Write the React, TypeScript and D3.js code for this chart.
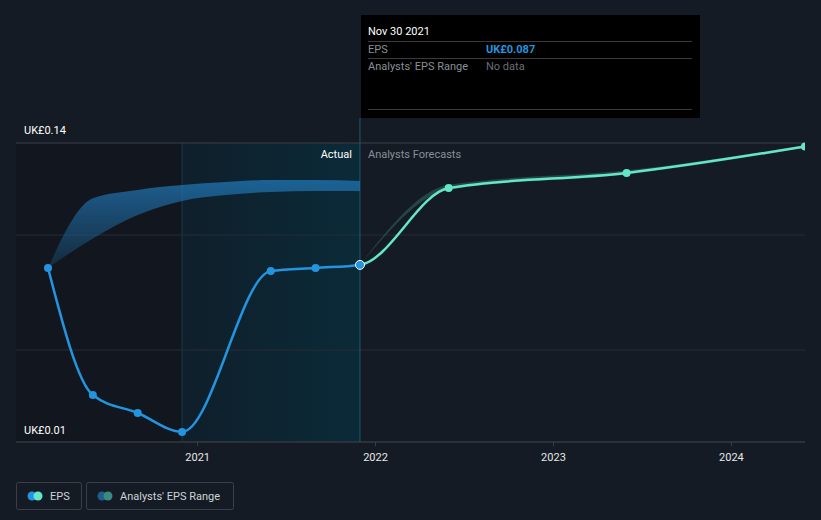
import React from "react";
import * as d3 from "d3";

const W = 821;
const H = 520;

const actualDates = ["2020-02-29", "2020-05-31", "2020-08-31", "2020-11-30", "2021-05-31", "2021-08-31", "2021-11-30"];
const actualEps = [0.0857, 0.0304, 0.0226, 0.0144, 0.0843, 0.0857, 0.087];

const forecastDates = ["2021-11-30", "2022-05-31", "2023-05-31", "2024-05-31"];
const forecastEps = [0.087, 0.1204, 0.127, 0.1385];
const forecastLow = [0.087, 0.1197, 0.1263, 0.1379];
const forecastHigh = [0.087, 0.1218, 0.1281, 0.139];

const pastRangeDates = ["2020-02-29", "2020-05-31", "2020-08-31", "2020-11-30", "2021-02-28", "2021-05-31", "2021-08-31", "2021-11-30"];
const pastRangeHigh = [0.0857, 0.116, 0.1196, 0.1217, 0.123, 0.1239, 0.1239, 0.1235];
const pastRangeLow = [0.0857, 0.0985, 0.1087, 0.1148, 0.1174, 0.1187, 0.1191, 0.1191];

const yTicks = [0.01, 0.05, 0.1, 0.14];
const xTicks = ["2021-01-01", "2022-01-01", "2023-01-01", "2024-01-01"];
const xTickLabels = ["2021", "2022", "2023", "2024"];

const parse = (s: string) => new Date(s + "T00:00:00");

export default function App() {
  const x = d3.scaleTime().domain([parse("2020-02-29"), parse("2024-05-31")]).range([48, 805]);
  const y = d3.scaleLinear().domain([0.01, 0.14]).range([442, 143]);

  const actual = actualDates.map((d, i) => ({ d: parse(d), v: actualEps[i] }));
  const forecast = forecastDates.map((d, i) => ({ d: parse(d), v: forecastEps[i], lo: forecastLow[i], hi: forecastHigh[i] }));
  const past = pastRangeDates.map((d, i) => ({ d: parse(d), lo: pastRangeLow[i], hi: pastRangeHigh[i] }));
  const combined = [...actual, ...forecast.slice(1)];

  const line = d3.line<any>().x((p) => x(p.d)).y((p) => y(p.v)).curve(d3.curveMonotoneX);
  const area = d3.area<any>().x((p) => x(p.d)).y0((p) => y(p.lo)).y1((p) => y(p.hi)).curve(d3.curveMonotoneX);

  const xNow = x(parse("2021-11-30"));
  const xStart = x(parse("2020-11-30"));
  const left = 16;
  const right = 805;
  const top = y(0.14);
  const bottom = y(0.01);
  const font = "Roboto, 'Open Sans', sans-serif";

  return (
    <svg width={W} height={H} style={{ position: "absolute", left: 0, top: 0, display: "block" }} fontFamily={font}>
      <defs>
        <linearGradient id="actualGrad" x1="0" x2="1" y1="0" y2="0">
          <stop offset="0%" stopColor="#0f1f2b" />
          <stop offset="100%" stopColor="#0b2a38" />
        </linearGradient>
        <linearGradient id="bandGrad" x1="0" x2="0" y1="0" y2="1">
          <stop offset="0%" stopColor="#2176b5" stopOpacity={0.75} />
          <stop offset="100%" stopColor="#2176b5" stopOpacity={0.2} />
        </linearGradient>
        <clipPath id="plotClip">
          <rect x={left} y={0} width={right - left} height={bottom} />
        </clipPath>
        <clipPath id="pastClip">
          <rect x={left} y={0} width={xNow - left} height={bottom} />
        </clipPath>
        <clipPath id="futureClip">
          <rect x={xNow} y={0} width={right - xNow} height={bottom} />
        </clipPath>
      </defs>
      <rect x={0} y={0} width={W} height={H} fill="#151b24" />
      <rect x={left} y={top} width={xStart - left} height={bottom - top} fill="#12171f" />
      <rect x={xStart} y={top} width={xNow - xStart} height={bottom - top} fill="url(#actualGrad)" />
      <line x1={xStart} x2={xStart} y1={top} y2={bottom} stroke="#1b3a4d" strokeWidth={1} />

      {yTicks.map((t) => (
        <line key={t} x1={left} x2={right} y1={y(t)} y2={y(t)} stroke={t === 0.14 ? "#3a3f48" : "#262c35"} strokeWidth={1} />
      ))}
      <line x1={left} x2={right} y1={bottom} y2={bottom} stroke="#3a3f48" strokeWidth={1} />
      {xTicks.map((t, i) => (
        <g key={t}>
          <line x1={x(parse(t))} x2={x(parse(t))} y1={bottom} y2={bottom + 4} stroke="#3a3f48" />
          <text x={x(parse(t))} y={bottom + 19} fill="#e6e6e6" fontSize={11} textAnchor="middle">{xTickLabels[i]}</text>
        </g>
      ))}
      <text x={24} y={134} fill="#ffffff" fontSize={11}>UK£0.14</text>
      <text x={24} y={434} fill="#ffffff" fontSize={11}>UK£0.01</text>

      <line x1={xNow} x2={xNow} y1={118} y2={bottom} stroke="#1c5a6d" strokeWidth={1} />
      <text x={xNow - 8} y={158} fill="#ffffff" fontSize={11} textAnchor="end">Actual</text>
      <text x={xNow + 8} y={158} fill="#8a8f96" fontSize={11}>Analysts Forecasts</text>

      <g clipPath="url(#plotClip)">
        <path d={area(past) || ""} fill="url(#bandGrad)" />
        <path d={area(forecast) || ""} fill="#2b5450" fillOpacity={0.75} />
        <g clipPath="url(#pastClip)">
          <path d={line(combined) || ""} fill="none" stroke="#2394df" strokeWidth={2.5} />
        </g>
        <g clipPath="url(#futureClip)">
          <path d={line(combined) || ""} fill="none" stroke="#63e6c9" strokeWidth={2.5} />
        </g>
        {actual.slice(0, -1).map((p, i) => (
          <circle key={i} cx={x(p.d)} cy={y(p.v)} r={4} fill="#2394df" />
        ))}
        {forecast.slice(1).map((p, i) => (
          <circle key={i} cx={x(p.d)} cy={y(p.v)} r={4} fill="#63e6c9" />
        ))}
        <circle cx={xNow} cy={y(0.087)} r={4.5} fill="#2394df" stroke="#ffffff" strokeWidth={1} />
      </g>

      <g>
        <rect x={361} y={15} width={339} height={103} fill="#000000" />
        <text x={368} y={35} fill="#ffffff" fontSize={11}>Nov 30 2021</text>
        <line x1={368} x2={692} y1={41.5} y2={41.5} stroke="#3a3a3a" />
        <text x={368} y={53} fill="#8a8f96" fontSize={11}>EPS</text>
        <text x={486} y={53} fill="#2394df" fontSize={11} fontWeight="bold">UK£0.087</text>
        <line x1={368} x2={692} y1={58.5} y2={58.5} stroke="#3a3a3a" />
        <text x={368} y={70} fill="#8a8f96" fontSize={11}>Analysts' EPS Range</text>
        <text x={486} y={70} fill="#6a6f76" fontSize={11}>No data</text>
        <line x1={368} x2={692} y1={109.5} y2={109.5} stroke="#3a3a3a" />
      </g>

      <g>
        <rect x={16.5} y={482.5} width={65} height={27} rx={2} fill="none" stroke="#3a3f48" />
        <circle cx={32} cy={496} r={4.5} fill="#2394df" />
        <circle cx={38} cy={496} r={4.5} fill="#63e6c9" />
        <text x={50} y={500} fill="#cfd2d6" fontSize={11}>EPS</text>
        <rect x={86.5} y={482.5} width={147} height={27} rx={2} fill="none" stroke="#3a3f48" />
        <circle cx={102} cy={496} r={4.5} fill="#1f5f8f" />
        <circle cx={108} cy={496} r={4.5} fill="#3a8a80" />
        <text x={120} y={500} fill="#cfd2d6" fontSize={11}>Analysts' EPS Range</text>
      </g>
    </svg>
  );
}
